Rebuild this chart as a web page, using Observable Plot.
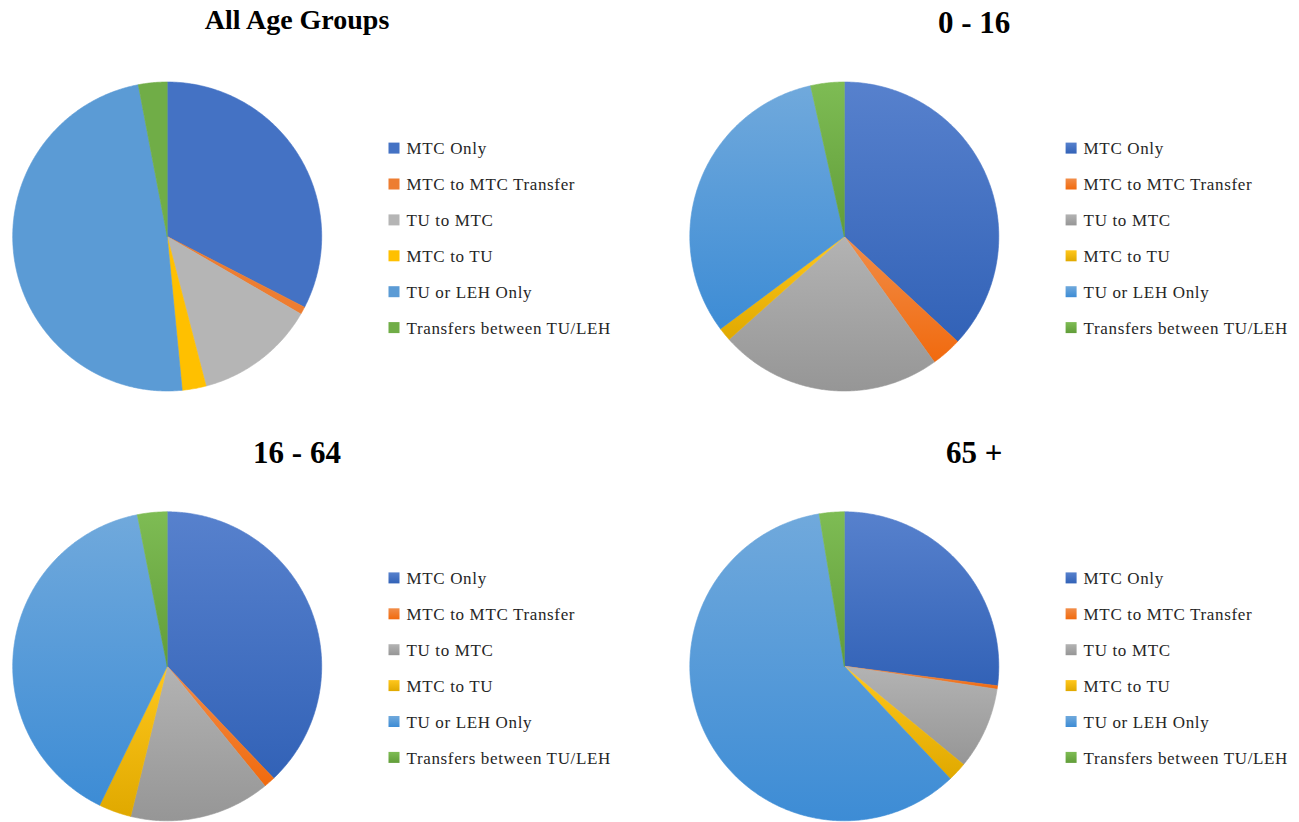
<!DOCTYPE html>
<html>
<head>
<meta charset="utf-8">
<script src="https://cdn.jsdelivr.net/npm/d3@7"></script>
<script src="https://cdn.jsdelivr.net/npm/@observablehq/plot@0.6"></script>
<style>
  html, body { margin: 0; padding: 0; background: #ffffff; }
  #chart { width: 1299px; height: 822px; overflow: hidden; }
</style>
</head>
<body>
<div id="chart"></div>
<script>
// ---- data (percent shares) ----
const groups = ["All Age Groups", "0 - 16", "16 - 64", "65 +"];
const categories = ["MTC Only", "MTC to MTC Transfer", "TU to MTC", "MTC to TU", "TU or LEH Only", "Transfers between TU/LEH"];
const allAgeGroups = [32.6, 0.8, 12.6, 2.5, 48.6, 3.0];
const ages0to16   = [36.9, 3.2, 23.3, 1.4, 31.7, 3.5];
const ages16to64  = [37.9, 1.2, 14.7, 3.4, 39.7, 3.1];
const ages65plus  = [27.0, 0.35, 8.6, 2.0, 59.4, 2.6];
const flatColors   = ["#4472C4", "#ED7D31", "#B5B5B5", "#FFC000", "#5B9BD5", "#70AD47"];
const officeColors = ["#4472C4", "#ED7D31", "#A5A5A5", "#FFC000", "#5B9BD5", "#70AD47"];

const seriesByGroup = [allAgeGroups, ages0to16, ages16to64, ages65plus];

// ---- layout ----
const W = 1299, H = 822;
const stepX = 677.1, stepY = 429.8;          // facet spacing
const padX = 2 - W / stepX, padY = 2 - H / stepY;
const cellW = stepX * (1 - padX), cellH = stepY * (1 - padY);
const cx = 166.7, cy = 236, R = 154.5;       // pie centre / radius inside a facet
const legSwX1 = 388.5, legSwX2 = 399.5, legTextX = 406;
const legY0 = 148.4, legStep = 35.9;

// ---- derived geometry from data ----
const slicePoints = [];
const legendRows = [];
const titleRows = [];
groups.forEach((g, k) => {
  const col = k % 2, row = Math.floor(k / 2);
  const fills = categories.map((c, j) => k === 0 ? flatColors[j] : `url(#grad${j})`);
  const arcs = d3.pie().sort(null).value(v => v)(seriesByGroup[k]);
  arcs.forEach((a, j) => {
    const id = `${k}-${j}`;
    const span = a.endAngle - a.startAngle;
    const n = Math.max(2, Math.ceil(span / (Math.PI / 360)));
    slicePoints.push({id, col, row, fill: fills[j], px: cx, py: cy});
    for (let i = 0; i <= n; i++) {
      const t = a.startAngle + span * i / n;
      slicePoints.push({id, col, row, fill: fills[j], px: cx + R * Math.sin(t), py: cy - R * Math.cos(t)});
    }
    slicePoints.push({id, col, row, fill: fills[j], px: cx, py: cy});
  });
  categories.forEach((c, j) => {
    const yc = legY0 + legStep * j;
    legendRows.push({col, row, label: c, fill: fills[j], x1: legSwX1, x2: legSwX2, y1: yc - 5.8, y2: yc + 5.2, tx: legTextX, ty: yc});
  });
  titleRows.push({col, row, label: g, tx: 296.5, ty: k === 0 ? 28.6 : 32.6, big: k !== 0});
});

// gradient definitions (Office-style vertical shading)
function gradientDefs() {
  const ns = "http://www.w3.org/2000/svg";
  const defs = document.createElementNS(ns, "defs");
  officeColors.forEach((c, i) => {
    const h = d3.hsl(c);
    const top = d3.hsl(h.h, Math.min(1, h.s + 0.02), Math.min(1, h.l + 0.055));
    const bot = d3.hsl(h.h, Math.min(1, h.s + 0.05), Math.max(0, h.l - 0.06));
    const lg = document.createElementNS(ns, "linearGradient");
    lg.setAttribute("id", "grad" + i);
    lg.setAttribute("x1", "0"); lg.setAttribute("y1", "0");
    lg.setAttribute("x2", "0"); lg.setAttribute("y2", "1");
    [[0, top], [1, bot]].forEach(([o, col]) => {
      const s = document.createElementNS(ns, "stop");
      s.setAttribute("offset", String(o));
      s.setAttribute("stop-color", col.formatHex());
      lg.appendChild(s);
    });
    defs.appendChild(lg);
  });
  return defs;
}

const serif = "Liberation Serif";

const chart = Plot.plot({
  width: W,
  height: H,
  margin: 0,
  style: {background: "#ffffff", overflow: "visible", fontFamily: serif},
  fx: {domain: [0, 1], paddingInner: padX, paddingOuter: 0, axis: null, round: false},
  fy: {domain: [0, 1], paddingInner: padY, paddingOuter: 0, axis: null, round: false},
  x: {domain: [0, cellW], axis: null},
  y: {domain: [0, cellH], reverse: true, axis: null},
  color: {type: "identity"},
  marks: [
    gradientDefs,
    Plot.line(slicePoints, {
      x: "px", y: "py", z: "id", fx: "col", fy: "row",
      fill: "fill", stroke: "fill", strokeWidth: 0.6, curve: "linear"
    }),
    Plot.rect(legendRows, {
      x1: "x1", x2: "x2", y1: "y1", y2: "y2", fx: "col", fy: "row", fill: "fill"
    }),
    Plot.text(legendRows, {
      x: "tx", y: "ty", text: "label", fx: "col", fy: "row",
      textAnchor: "start", lineAnchor: "middle", fontSize: 17, fontFamily: serif,
      fill: "#262626"
    }),
    Plot.text(titleRows.filter(d => !d.big), {
      x: "tx", y: "ty", text: "label", fx: "col", fy: "row",
      textAnchor: "middle", lineAnchor: "bottom", fontSize: 28, fontWeight: "bold",
      fontFamily: serif, fill: "#000000"
    }),
    Plot.text(titleRows.filter(d => d.big), {
      x: "tx", y: "ty", text: "label", fx: "col", fy: "row",
      textAnchor: "middle", lineAnchor: "bottom", fontSize: 31, fontWeight: "bold",
      fontFamily: serif, fill: "#000000"
    })
  ]
});
chart.querySelectorAll("text").forEach(t => {
  if (categories.includes(t.textContent)) t.setAttribute("letter-spacing", "0.65");
});
document.getElementById("chart").appendChild(chart);
</script>
</body>
</html>
